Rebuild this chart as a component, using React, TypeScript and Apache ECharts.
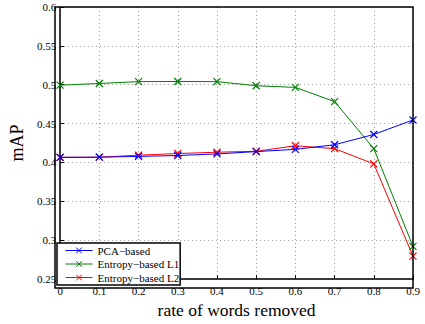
import React, { useEffect, useRef } from "react";
import * as echarts from "echarts";

const rates = ["0", "0.1", "0.2", "0.3", "0.4", "0.5", "0.6", "0.7", "0.8", "0.9"];
const xValues = [0, 0.1, 0.2, 0.3, 0.4, 0.5, 0.6, 0.7, 0.8, 0.9];
const pcaBased = [0.4066, 0.4068, 0.4078, 0.409, 0.411, 0.414, 0.4169, 0.4228, 0.436, 0.4547];
const entropyL1 = [0.4995, 0.5016, 0.504, 0.5042, 0.504, 0.4987, 0.4966, 0.4783, 0.4178, 0.292];
const entropyL2 = [0.4066, 0.4068, 0.4094, 0.4115, 0.4132, 0.4144, 0.4215, 0.4178, 0.3982, 0.2795];
const seriesNames = ["PCA\u2212based", "Entropy\u2212based L1", "Entropy\u2212based L2"];
const seriesColors = ["#0000ff", "#008000", "#ff0000"];

const FONT = "Liberation Serif";
const crossSymbol = "path://M0,0L10,10M10,0L0,10";

export default function App() {
  const ref = useRef<HTMLDivElement>(null);
  useEffect(() => {
    if (!ref.current) return;
    const chart = echarts.init(ref.current, undefined, { renderer: "svg" });
    const datasets = [pcaBased, entropyL1, entropyL2];
    chart.setOption({
      animation: false,
      backgroundColor: "#ffffff",
      grid: { left: 55, right: 12, top: 7, bottom: 36, containLabel: false },
      xAxis: {
        type: "value",
        min: 0,
        max: 0.9,
        interval: 0.1,
        name: "rate of words removed",
        nameLocation: "middle",
        nameGap: 18,
        nameTextStyle: { fontFamily: FONT, fontSize: 17.5, color: "#000" },
        axisLine: { show: true, lineStyle: { color: "#000", width: 1.5 } },
        axisTick: { show: true, inside: true, length: 4, lineStyle: { color: "#000" } },
        axisLabel: {
          fontFamily: FONT,
          fontSize: 11,
          color: "#000",
          margin: 6,
          formatter: (v: number) => rates[Math.round(v * 10)] ?? String(v),
        },
        splitLine: { show: true, lineStyle: { color: "#999", type: [1, 3], width: 1 } },
      },
      yAxis: {
        type: "value",
        min: 0.25,
        max: 0.6,
        interval: 0.05,
        name: "mAP",
        nameLocation: "middle",
        nameGap: 26,
        nameTextStyle: { fontFamily: FONT, fontSize: 18, color: "#000" },
        axisLine: { show: true, lineStyle: { color: "#000", width: 1.5 } },
        axisTick: { show: true, inside: true, length: 4, lineStyle: { color: "#000" } },
        axisLabel: {
          fontFamily: FONT,
          fontSize: 11,
          color: "#000",
          margin: 4,
          formatter: (v: number) => String(parseFloat(v.toFixed(2))),
        },
        splitLine: { show: true, lineStyle: { color: "#999", type: [1, 3], width: 1 } },
      },
      legend: {
        left: 57,
        top: 243,
        orient: "vertical",
        backgroundColor: "#ffffff",
        borderColor: "#000",
        borderWidth: 1.5,
        borderRadius: 0,
        padding: [2, 1, 2, 8],
        itemGap: 2.5,
        itemWidth: 27,
        itemHeight: 7,
        lineStyle: { width: 1 },
        itemStyle: { borderWidth: 1 },
        textStyle: { fontFamily: FONT, fontSize: 11, color: "#000" },
        data: seriesNames,
      },
      series: seriesNames.map((name, i) => ({
        name,
        type: "line",
        data: xValues.map((x, j) => [x, datasets[i][j]]),
        symbol: crossSymbol,
        symbolSize: 7,
        showSymbol: true,
        lineStyle: { color: seriesColors[i], width: 1 },
        itemStyle: { color: "none", borderColor: seriesColors[i], borderWidth: 1.2 },
        z: 3 - i,
      })),
      graphic: [
        {
          type: "rect",
          shape: { x: 55, y: 7, width: 358, height: 281 },
          style: { fill: "none", stroke: "#000", lineWidth: 1.5 },
          silent: true,
          z: 100,
        },
      ],
    });
    return () => chart.dispose();
  }, []);
  return (
    <div
      ref={ref}
      style={{ position: "absolute", left: 0, top: 0, width: 425, height: 324 }}
    />
  );
}
